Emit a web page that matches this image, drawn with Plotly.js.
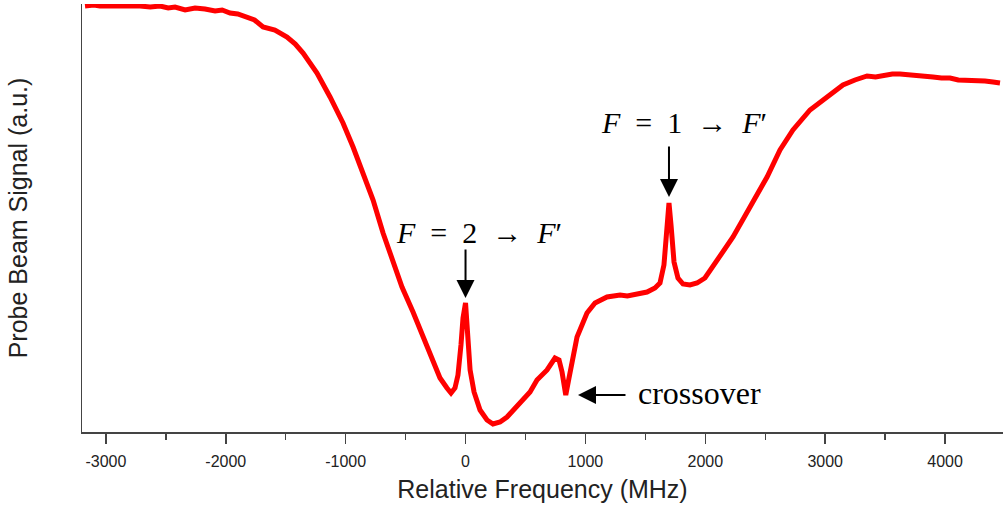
<!DOCTYPE html>
<html>
<head>
<meta charset="utf-8">
<script src="https://cdn.plot.ly/plotly-3.0.1.min.js"></script>
<style>html,body{margin:0;padding:0;background:#fff;}#chart{width:1003px;height:508px;}</style>
</head>
<body>
<div id="chart"></div>
<script>
// Relative frequency (MHz)
const freq = [-3174,-3100,-3049,-2960,-2882,-2800,-2715,-2630,-2548,-2480,-2423,-2339,-2256,-2173,-2089,-2030,-1964,-1900,-1839,-1760,-1689,-1590,-1489,-1420,-1355,-1239,-1130,-1022,-938,-855,-771,-688,-605,-530,-438,-363,-296,-213,-155,-121,-88,-63,-38,-21,0,17,38,71,121,179,229,288,346,400,455,538,596,680,746,780,805,836,863,888,930,1013,1080,1180,1289,1350,1414,1514,1580,1622,1655,1681,1697,1714,1739,1772,1814,1872,1931,1997,2098,2231,2373,2515,2623,2731,2873,3015,3148,3248,3349,3420,3499,3560,3624,3690,3749,3820,3899,3970,4041,4110,4183,4260,4333,4400,4458];
// Probe beam signal (a.u.)
const signal = [426,427,426,426,427,426,426,425,426,424,425,422,424,423,421,422,419,418,415,412,405,402,395,388,379,359,335,309,285,259,232,199,172,145,120,97,79,54,44,39,44,57,87,114,129,97,62,40,22,12,8,10,15,22,29,40,52,62,74,72,60,37,54,72,95,119,129,135,137,136,138,140,144,149,167,207,229,207,170,154,148,147,149,154,172,195,225,255,282,302,322,335,347,352,356,355,357,358,358,357,357,355,355,354,354,352,352,351,351,350,349];
// Axis tick values
const tickVals = [-3000,-2000,-1000,0,1000,2000,3000,4000];
const tickText = ["-3000","-2000","-1000","0","1000","2000","3000","4000"];
// Annotation labels
const labelF2 = "<i>F</i>\u2002=\u20022\u2002→\u2002<i>F</i>′";
const labelF1 = "<i>F</i>\u2002=\u20021\u2002→\u2002<i>F</i>′";
const labelCross = "crossover";
const peakF2 = 0, peakF1 = 1697, dipCross = 836;

const trace = {
  x: freq, y: signal, type: 'scatter', mode: 'lines',
  line: {color: '#ff0000', width: 5},
  hoverinfo: 'skip'
};

const serif = {family: 'Liberation Serif, DejaVu Serif, serif', size: 30, color: '#000'};

const layout = {
  width: 1003, height: 508,
  margin: {l: 82, r: 0, t: 4, b: 76},
  paper_bgcolor: '#fff', plot_bgcolor: '#fff',
  showlegend: false,
  font: {family: 'Liberation Sans, Arial, sans-serif', color: '#222'},
  xaxis: {
    range: [-3199, 4483],
    tickvals: tickVals, ticktext: tickText,
    ticks: 'outside', ticklen: 10, tickwidth: 1.5, tickcolor: '#444',
    minor: {dtick: 500, tick0: 0, ticks: 'outside', ticklen: 6, tickwidth: 1.5, tickcolor: '#444'},
    showline: true, linecolor: '#444', linewidth: 1.5,
    showgrid: false, zeroline: false,
    tickfont: {size: 16, color: '#222'},
    ticklabelstandoff: 4,
    title: {text: 'Relative Frequency (MHz)', font: {size: 25, color: '#222'}, standoff: 12}
  },
  yaxis: {
    range: [0, 428],
    showticklabels: false, ticks: '',
    showline: true, linecolor: '#444', linewidth: 1.5,
    showgrid: false, zeroline: false,
    title: {text: 'Probe Beam Signal (a.u.)', font: {size: 25, color: '#222'}, standoff: 46}
  },
  annotations: [
    {x: peakF2, y: 134, ax: 0, ay: -50, showarrow: true, arrowhead: 2, arrowsize: 1.8, arrowwidth: 2, arrowcolor: '#000', text: ''},
    {x: peakF1, y: 235, ax: 0, ay: -52, showarrow: true, arrowhead: 2, arrowsize: 1.8, arrowwidth: 2, arrowcolor: '#000', text: ''},
    {x: 938, y: 37, ax: 49, ay: 0, showarrow: true, arrowhead: 2, arrowsize: 1.8, arrowwidth: 2, arrowcolor: '#000', text: ''},
    {x: 113, y: 200, text: labelF2, showarrow: false, font: serif, xanchor: 'center', yanchor: 'middle'},
    {x: 1822, y: 310, text: labelF1, showarrow: false, font: serif, xanchor: 'center', yanchor: 'middle'},
    {x: 1422, y: 39, text: labelCross, showarrow: false, font: {family: serif.family, size: 32, color: '#000'}, xanchor: 'left', yanchor: 'middle'}
  ]
};

Plotly.newPlot('chart', [trace], layout, {displayModeBar: false, staticPlot: true});
</script>
</body>
</html>
